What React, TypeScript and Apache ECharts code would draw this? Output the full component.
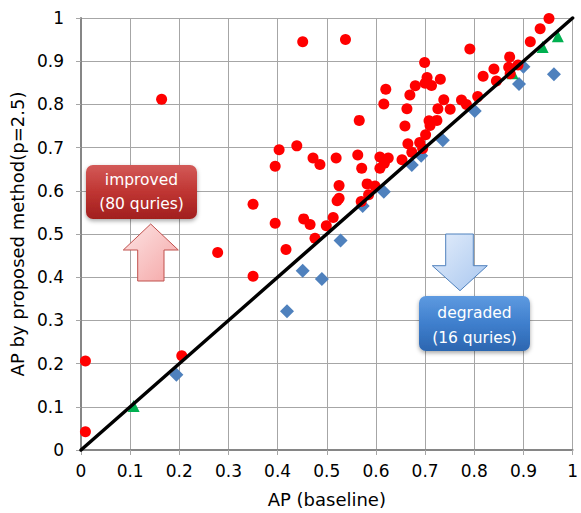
import React, { useEffect, useRef } from "react";
import * as echarts from "echarts";

// Improved queries (red circles): baseline AP, proposed AP
const improvedX = [
  0.164, 0.451, 0.538, 0.952, 0.934, 0.914, 0.791, 0.872, 0.84, 0.87,
  0.889, 0.873, 0.818, 0.845, 0.699, 0.704, 0.731, 0.713, 0.7, 0.68,
  0.62, 0.669, 0.616, 0.663, 0.738, 0.726, 0.751, 0.774, 0.784, 0.807,
  0.566, 0.659, 0.708, 0.724, 0.71, 0.701, 0.665, 0.689, 0.673, 0.695,
  0.653, 0.608, 0.625, 0.617, 0.608, 0.439, 0.403, 0.395, 0.472, 0.486,
  0.519, 0.563, 0.571, 0.525, 0.525, 0.521, 0.582, 0.598, 0.585, 0.57,
  0.513, 0.453, 0.466, 0.499, 0.476, 0.417, 0.395, 0.35, 0.278, 0.35,
  0.009, 0.205, 0.009,
];
const improvedY = [
  0.812, 0.945, 0.95, 0.999, 0.975, 0.945, 0.928, 0.91, 0.882, 0.886,
  0.891, 0.871, 0.865, 0.854, 0.897, 0.862, 0.858, 0.844, 0.849, 0.843,
  0.835, 0.822, 0.801, 0.79, 0.811, 0.79, 0.789, 0.81, 0.8, 0.818,
  0.763, 0.75, 0.762, 0.763, 0.751, 0.73, 0.709, 0.712, 0.689, 0.698,
  0.672, 0.678, 0.676, 0.664, 0.652, 0.704, 0.695, 0.657, 0.676, 0.661,
  0.676, 0.683, 0.652, 0.612, 0.583, 0.577, 0.616, 0.611, 0.591, 0.575,
  0.538, 0.535, 0.522, 0.519, 0.49, 0.464, 0.525, 0.569, 0.457, 0.402,
  0.206, 0.218, 0.042,
];

// Degraded queries (blue diamonds)
const degradedX = [
  0.194, 0.419, 0.451, 0.49, 0.528, 0.573, 0.616, 0.673, 0.692, 0.736,
  0.801, 0.891, 0.9, 0.962,
];
const degradedY = [
  0.174, 0.321, 0.415, 0.396, 0.485, 0.565, 0.598, 0.66, 0.681, 0.717,
  0.785, 0.847, 0.887, 0.87,
];

// Unchanged queries (green triangles)
const tieX = [0.107, 0.878, 0.939, 0.97];
const tieY = [0.102, 0.872, 0.933, 0.958];

// Reference diagonal y = x
const diagX = [0, 1];
const diagY = [0, 1];

const FONT = "DejaVu Sans";

export default function App() {
  const ref = useRef<HTMLDivElement>(null);

  useEffect(() => {
    if (!ref.current) return;
    const chart = echarts.init(ref.current, null, { renderer: "svg" });
    const pairs = (xs: number[], ys: number[]) => xs.map((x, i) => [x, ys[i]]);

    const axisCommon = {
      type: "value" as const,
      min: 0,
      max: 1,
      interval: 0.1,
      axisLine: { show: true, lineStyle: { color: "#868686", width: 2 } },
      axisTick: { show: true, length: 5, lineStyle: { color: "#a6a6a6" } },
      splitLine: { show: true, lineStyle: { color: "#a6a6a6", width: 1 } },
    };

    chart.setOption({
      animation: false,
      backgroundColor: "#ffffff",
      grid: { left: 81, right: 3, top: 18, bottom: 62, containLabel: false },
      xAxis: {
        ...axisCommon,
        name: "AP (baseline)",
        nameLocation: "middle",
        nameGap: 40,
        nameTextStyle: { fontFamily: FONT, fontSize: 18, color: "#000" },
        axisLabel: { fontFamily: FONT, fontSize: 17, color: "#000", margin: 12 },
      },
      yAxis: {
        ...axisCommon,
        name: "AP by proposed method(p=2.5)",
        nameLocation: "middle",
        nameGap: 55,
        nameTextStyle: { fontFamily: FONT, fontSize: 18, color: "#000" },
        axisLabel: { fontFamily: FONT, fontSize: 17, color: "#000", margin: 17 },
      },
      series: [
        {
          type: "scatter",
          data: pairs(degradedX, degradedY),
          symbol: "diamond",
          symbolSize: 14,
          itemStyle: { color: "#4f81bd", opacity: 1 },
          z: 2,
        },
        {
          type: "scatter",
          data: pairs(tieX, tieY),
          symbol: "triangle",
          symbolSize: 12,
          itemStyle: { color: "#00b050", opacity: 1 },
          z: 3,
        },
        {
          type: "scatter",
          data: pairs(improvedX, improvedY),
          symbol: "circle",
          symbolSize: 11,
          itemStyle: { color: "#ff0000", opacity: 1 },
          z: 4,
        },
        {
          type: "line",
          data: pairs(diagX, diagY),
          showSymbol: false,
          symbol: "none",
          clip: false,
          lineStyle: { color: "#000", width: 3.5, cap: "round" },
          z: 5,
        },
      ],
      graphic: [
        {
          type: "polygon",
          z: 10,
          shape: {
            points: [
              [150.7, 224], [178.3, 250], [164, 250], [164, 281],
              [137.7, 281], [137.7, 250], [123.3, 250],
            ],
          },
          style: {
            fill: new echarts.graphic.LinearGradient(0, 0, 1, 1, [
              { offset: 0, color: "#fde4e4" },
              { offset: 1, color: "#f4a6a6" },
            ]),
            stroke: "#c0504d",
            lineWidth: 1,
          },
        },
        {
          type: "rect",
          z: 10,
          shape: { x: 86, y: 165, width: 111, height: 54, r: 7 },
          style: {
            fill: new echarts.graphic.LinearGradient(0, 0, 0, 1, [
              { offset: 0, color: "#d35a58" },
              { offset: 0.5, color: "#bf3532" },
              { offset: 1, color: "#a11f1e" },
            ]),
            shadowBlur: 4,
            shadowOffsetY: 2,
            shadowColor: "rgba(0,0,0,0.35)",
          },
        },
        {
          type: "text",
          z: 11,
          x: 141.5,
          y: 192,
          style: {
            text: "improved\n(80 quries)",
            fill: "#ffffff",
            fontFamily: FONT,
            fontSize: 15.5,
            lineHeight: 24,
            align: "center",
            verticalAlign: "middle",
          },
        },
        {
          type: "polygon",
          z: 10,
          shape: {
            points: [
              [445.7, 234], [473.3, 234], [473.3, 265.7], [487.3, 265.7],
              [460, 290.7], [432.3, 265.7], [445.7, 265.7],
            ],
          },
          style: {
            fill: new echarts.graphic.LinearGradient(0, 0, 1, 1, [
              { offset: 0, color: "#e3edfb" },
              { offset: 1, color: "#a9c7ef" },
            ]),
            stroke: "#4f81bd",
            lineWidth: 1,
          },
        },
        {
          type: "rect",
          z: 10,
          shape: { x: 419, y: 296, width: 111, height: 55, r: 7 },
          style: {
            fill: new echarts.graphic.LinearGradient(0, 0, 0, 1, [
              { offset: 0, color: "#5e9ae0" },
              { offset: 0.5, color: "#3f7fcd" },
              { offset: 1, color: "#2c66b0" },
            ]),
            shadowBlur: 4,
            shadowOffsetY: 2,
            shadowColor: "rgba(0,0,0,0.35)",
          },
        },
        {
          type: "text",
          z: 11,
          x: 474.5,
          y: 325.5,
          style: {
            text: "degraded\n(16 quries)",
            fill: "#ffffff",
            fontFamily: FONT,
            fontSize: 15.5,
            lineHeight: 25,
            align: "center",
            verticalAlign: "middle",
          },
        },
      ],
    });

    return () => chart.dispose();
  }, []);

  return (
    <div
      ref={ref}
      style={{ position: "fixed", left: 0, top: 0, width: 581, height: 513 }}
    />
  );
}
